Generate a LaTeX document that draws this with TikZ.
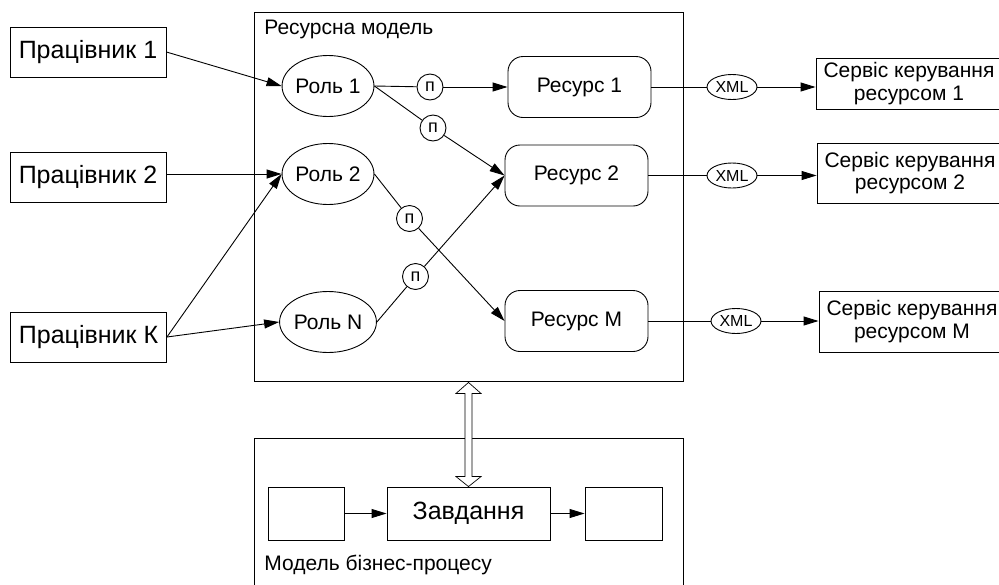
\documentclass[tikz,border=0pt]{standalone}
\usepackage{fontspec}
\setmainfont{Liberation Sans}
\usetikzlibrary{arrows.meta,shapes.geometric,calc}

\tikzset{
  box/.style={draw, rectangle, inner sep=0pt},
  worker/.style={box, minimum width=156, minimum height=50, font=\fontsize{25}{28}\selectfont},
  role/.style={draw, ellipse, inner sep=0pt, minimum width=90, minimum height=61, font=\fontsize{21}{24}\selectfont},
  resbox/.style={draw, rectangle, rounded corners=15pt, inner sep=0pt, minimum width=143, minimum height=61, font=\fontsize{21}{24}\selectfont},
  gate/.style={draw, circle, inner sep=0pt, minimum size=26, font=\fontsize{18}{20}\selectfont},
  xmlnode/.style={draw, ellipse, inner sep=0pt, minimum width=50, minimum height=25, font=\fontsize{16}{18}\selectfont},
  service/.style={box, minimum width=186, minimum height=51, align=center, font=\fontsize{21}{22.5}\selectfont},
  taskbox/.style={box, minimum height=53, font=\fontsize{25}{28}\selectfont},
  caption/.style={anchor=base west, inner sep=0pt, font=\fontsize{21}{24}\selectfont},
  arr/.style={-{Triangle[length=15pt,width=9pt]}},
}

\begin{document}
\begin{tikzpicture}[x=1pt, y=-1pt, line width=0.9pt]
\clip (0,0) rectangle (999,584);

% containers
\node[box, minimum width=429, minimum height=369] (rm) at (468.5,196.5) {};
\node[caption] (rmlabel) at (264,34) {Ресурсна модель};
\node[box, minimum width=429, minimum height=170] (bp) at (468.5,523) {};
\node[caption] (bplabel) at (264,570) {Модель бізнес-процесу};

% workers
\node[worker] (w1) at (88,52) {Працівник 1};
\node[worker] (w2) at (88,177.5) {Працівник 2};
\node[worker] (wk) at (88.5,337) {Працівник К};

% roles
\node[role] (r1) at (328,86) {Роль 1};
\node[role] (r2) at (328,174) {Роль 2};
\node[role] (rN) at (328,322) {Роль N};

% resources
\node[resbox] (res1) at (579.5,87) {Ресурс 1};
\node[resbox] (res2) at (576.5,175.5) {Ресурс 2};
\node[resbox] (resM) at (576.5,321) {Ресурс M};

% permission gates
\node[gate] (c1) at (430,87) {п};
\node[gate] (c2) at (433,128) {п};
\node[gate] (c3) at (409.5,218.5) {п};
\node[gate] (c4) at (415.5,276.5) {п};

% XML messages
\node[xmlnode] (x1) at (732,87) {XML};
\node[xmlnode] (x2) at (732,175.5) {XML};
\node[xmlnode] (x3) at (736,321) {XML};

% resource management services
\node[service] (s1) at (909,83.5) {Сервіс керування\\ресурсом 1};
\node[service, minimum height=60] (s2) at (910,173) {Сервіс керування\\ресурсом 2};
\node[service, minimum height=61] (sM) at (912,321.5) {Сервіс керування\\ресурсом M};

% business process
\node[taskbox, minimum width=76] (b1) at (306,513.5) {};
\node[taskbox, minimum width=163] (task) at (468.5,513.5) {Завдання};
\node[taskbox, minimum width=77] (b2) at (623.5,513.5) {};

% workers to roles
\draw[arr] (w1.east) -- (r1.west);
\draw[arr] (w2.east |- r2.west) -- (r2.west);
\draw[arr] (wk.east) -- (r2.west);
\draw[arr] (wk.east) -- (rN.west);

% roles to resources through permissions
\draw (r1.east) -- (c1);
\draw[arr] (c1) -- (res1.west);
\draw (r1.east) -- (c2);
\draw[arr] (c2) -- (res2.west);
\draw (r2.east) -- (c3);
\draw[arr] (c3) -- (resM.west);
\draw (rN.east) -- (c4);
\draw[arr] (c4) -- (res2.west);

% resources to services
\draw (res1.east) -- (x1);
\draw[arr] (x1) -- (s1.west |- x1);
\draw (res2.east) -- (x2);
\draw[arr] (x2) -- (s2.west |- x2);
\draw (resM.east) -- (x3);
\draw[arr] (x3) -- (sM.west |- x3);

% task flow
\draw[arr] (b1) -- (task);
\draw[arr] (task) -- (b2);

% hollow double arrow between the two models
\coordinate (dA) at ($(rm.south)+(0,1)$);
\coordinate (dB) at (task.north);
\draw[line width=0.7pt, fill=white]
  (dA) -- ($(dA)+(12.5,11)$) -- ($(dA)+(3.5,11)$) -- ($(dB)+(3.5,-10)$) -- ($(dB)+(12.5,-10)$)
  -- (dB) -- ($(dB)+(-12.5,-10)$) -- ($(dB)+(-3.5,-10)$) -- ($(dA)+(-3.5,11)$) -- ($(dA)+(-12.5,11)$) -- cycle;
\end{tikzpicture}
\end{document}
